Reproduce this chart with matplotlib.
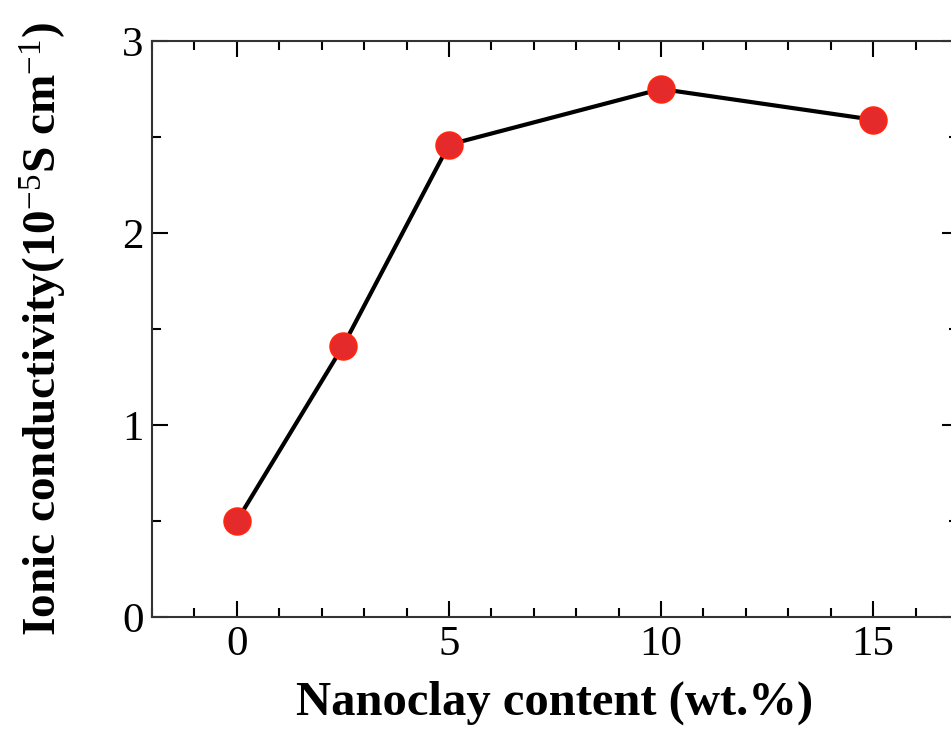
import matplotlib
matplotlib.use("Agg")
import matplotlib.pyplot as plt
from matplotlib.ticker import MultipleLocator

# data
nanoclay = [0, 2.5, 5, 10, 15]
conductivity = [0.50, 1.41, 2.46, 2.75, 2.59]
x_ticks = [0, 5, 10, 15]
y_ticks = [0, 1, 2, 3]

plt.rcParams['font.family'] = ['Liberation Serif', 'DejaVu Serif']
plt.rcParams['mathtext.fontset'] = 'custom'
plt.rcParams['mathtext.rm'] = 'Liberation Serif'
plt.rcParams['mathtext.it'] = 'Liberation Serif'
plt.rcParams['mathtext.bf'] = 'Liberation Serif:bold'

fig = plt.figure(figsize=(9.51, 7.30), dpi=100)
# axes run past the right edge of the figure, like the cropped original
ax = fig.add_axes([152 / 951, 1 - 617 / 730, 806 / 951, 576 / 730])

ax.plot(nanoclay, conductivity, color='black', linewidth=3,
        marker='o', markersize=19, markerfacecolor='#e42a2a',
        markeredgecolor='#ff2612', markeredgewidth=1.5, zorder=3)

ax.set_xlim(-2, 17)
ax.set_ylim(0, 3)
ax.set_xticks(x_ticks)
ax.set_yticks(y_ticks)
ax.xaxis.set_minor_locator(MultipleLocator(1))
ax.yaxis.set_minor_locator(MultipleLocator(0.5))
ax.tick_params(which='both', direction='in', top=True, right=True,
               labelsize=31, width=1.5, pad=6)
ax.tick_params(which='major', length=11.5)
ax.tick_params(which='minor', length=6.5)
for s in ax.spines.values():
    s.set_linewidth(1.5)
    s.set_color('#333333')

ax.set_xlabel('Nanoclay content (wt.%)', fontsize=35, fontweight='bold',
              labelpad=12)
ax.set_ylabel(r'Ionic conductivity(10$^{-5}$S cm$^{-1}$)', fontsize=34,
              fontweight='bold', labelpad=38)

fig.savefig('out.png', dpi=100)
